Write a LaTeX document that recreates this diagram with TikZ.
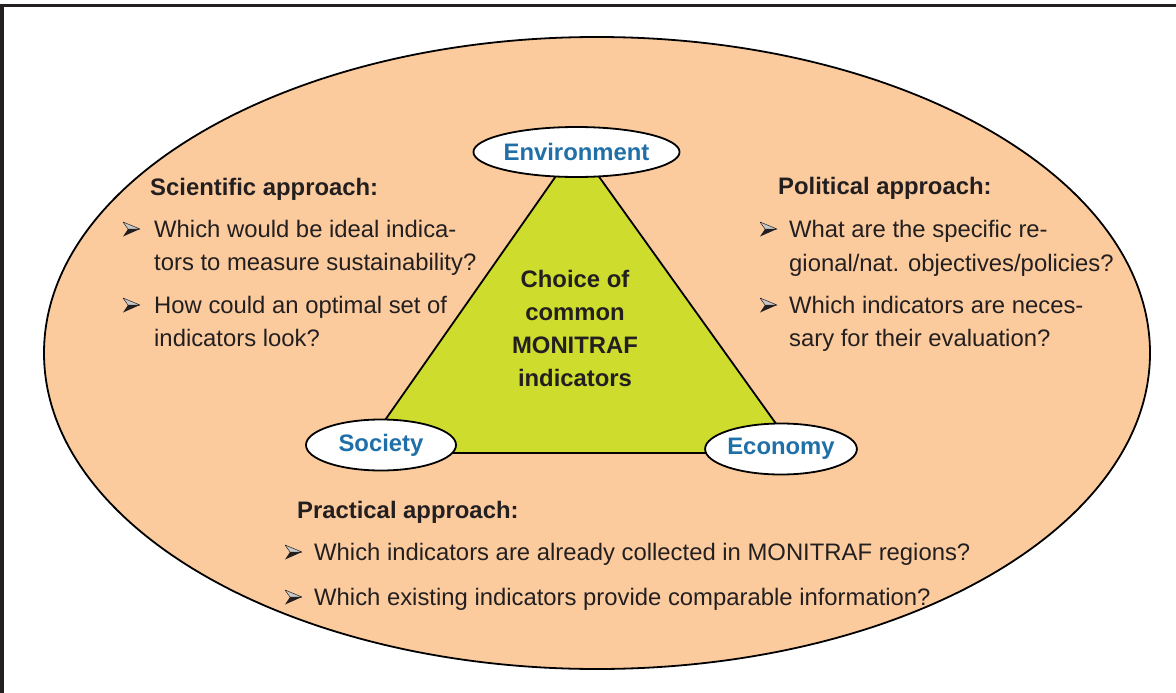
\documentclass[tikz,border=0pt]{standalone}
\usepackage{fontspec}
\setmainfont{Liberation Sans}
\usetikzlibrary{shapes.geometric}
\definecolor{peach}{RGB}{251,203,158}
\definecolor{lime}{RGB}{206,220,46}
\definecolor{lblue}{RGB}{31,111,168}
\definecolor{ink}{RGB}{35,31,32}
\begin{document}
\begin{tikzpicture}[x=1pt,y=-1pt,
  txt/.style={anchor=base west, inner sep=0pt, text=ink, font=\fontsize{23.85}{28}\selectfont},
  head/.style={txt, font=\fontsize{23.85}{28}\selectfont\bfseries},
  oval/.style={ellipse, draw=black, line width=1.8pt, fill=white, inner sep=0pt,
    text=lblue, font=\fontsize{23.85}{28}\selectfont\bfseries},
  arrowbul/.pic={
    \filldraw[fill=ink!25, draw=ink, line width=0.5pt, line join=round] (17,0) -- (0,-7) -- (5,0) -- cycle;
    \fill[ink] (17,0) -- (5,0) -- (0,7.5) -- cycle;
  }]
\useasboundingbox (0,0) rectangle (1176,693);
\fill[white] (0,0) rectangle (1176,693);
\draw[ink, line width=3.5pt] (0,5.5) -- (1176,5.5);
\draw[ink, line width=3.5pt] (1.75,5.5) -- (1.75,693);
% big ellipse
\filldraw[fill=peach, draw=black, line width=1.8pt] (597,353) ellipse [x radius=553pt, y radius=316pt];
% triangle
\filldraw[fill=lime, draw=black, line width=1.8pt] (577,146) -- (362,453) -- (797,453) -- cycle;
% corner ellipses
\node[oval, minimum width=187pt, minimum height=50pt] (env) at (576.5,152) {Environment};
\node[oval, minimum width=150pt, minimum height=51pt] (soc) at (381,445) {Society};
\node[oval, minimum width=150pt, minimum height=51pt] (eco) at (781,449) {Economy};
% centre text
\node[inner sep=0pt, text=ink, align=center, font=\fontsize{23.85}{33}\selectfont\bfseries] (choice) at (575,328) {Choice of\\common\\MONITRAF\\indicators};
% scientific
\node[head] (sh) at (150,195) {Scientific approach:};
\pic at (123,229) {arrowbul};
\node[txt] (s1) at (154,237) {Which would be ideal indica-};
\node[txt] (s2) at (154,270) {tors to measure sustainability?};
\pic at (123,305) {arrowbul};
\node[txt] (s3) at (154,313) {How could an optimal set of};
\node[txt] (s4) at (154,346) {indicators look?};
% political
\node[head] (ph) at (778,194) {Political approach:};
\pic at (760,229) {arrowbul};
\node[txt] (p1) at (789,237) {What are the specific re-};
\node[txt] (p2) at (789,271) {gional/nat. objectives/policies?};
\pic at (760,305) {arrowbul};
\node[txt] (p3) at (789,313) {Which indicators are neces-};
\node[txt] (p4) at (789,346) {sary for their evaluation?};
% practical
\node[head] (rh) at (297,518) {Practical approach:};
\pic at (285,552) {arrowbul};
\node[txt] (r1) at (314,560) {Which indicators are already collected in MONITRAF regions?};
\pic at (285,597) {arrowbul};
\node[txt] (r2) at (314,605) {Which existing indicators provide comparable information?};
\end{tikzpicture}
\end{document}
